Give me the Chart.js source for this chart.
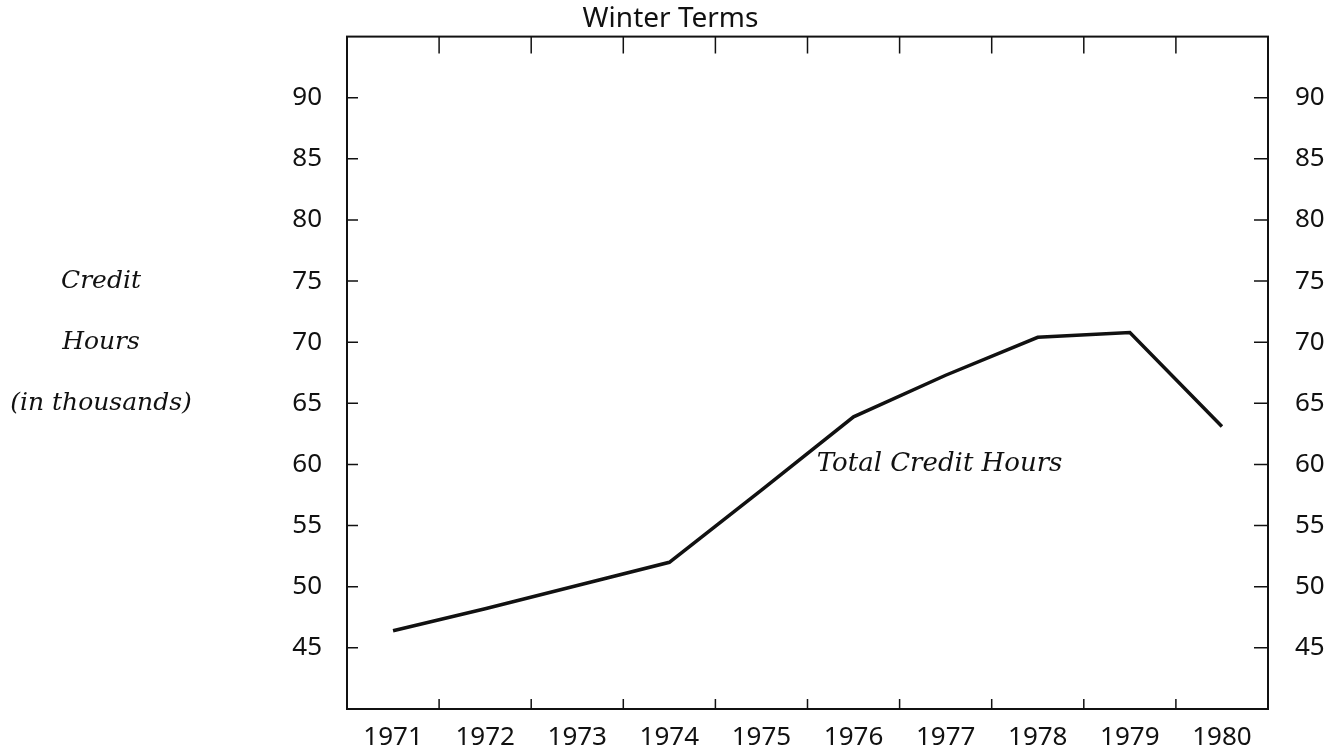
<!DOCTYPE html>
<html>
<head>
<meta charset="utf-8">
<title>Winter Terms</title>
<script src="https://cdn.jsdelivr.net/npm/chart.js@4.4.1/dist/chart.umd.min.js"></script>
<style>
  html, body { margin: 0; padding: 0; background: #fff; }
  #wrap { width: 1341px; height: 753px; }
</style>
</head>
<body>
<div id="wrap"><canvas id="chart" width="1341" height="753"></canvas></div>
<script>
// Winter term credit hours, in thousands
const years = ['1971', '1972', '1973', '1974', '1975', '1976', '1977', '1978', '1979', '1980'];
const creditHours = [46.4, 48.2, 50.1, 52.0, 57.9, 63.9, 67.3, 70.4, 70.8, 63.1];
const yTickValues = [45, 50, 55, 60, 65, 70, 75, 80, 85, 90];
const sideTitle = ['Credit', 'Hours', '(in thousands)'];
const sideTitleRows = [75, 70, 65];
const seriesLabel = 'Total Credit Hours';

const INK = '#111';
const numFont = { family: '"Noto Sans", sans-serif', size: 26 };
const italicFont = 'italic 25px "DejaVu Serif", serif';

// frame, inward tick marks and the loose text labels
const framePlugin = {
  id: 'frame',
  beforeDatasetsDraw(chart) {
    const { ctx, chartArea: a, scales } = chart;
    ctx.save();
    ctx.strokeStyle = INK;
    ctx.lineWidth = 2;
    ctx.strokeRect(a.left, a.top, a.right - a.left, a.bottom - a.top);

    ctx.lineWidth = 1.5;
    ctx.beginPath();
    scales.y.ticks.forEach(t => {
      const py = scales.y.getPixelForValue(t.value);
      ctx.moveTo(a.left, py); ctx.lineTo(a.left + 11, py);
      ctx.moveTo(a.right, py); ctx.lineTo(a.right - 14, py);
    });
    // x ticks sit on the boundaries between years
    for (let i = 0; i < years.length - 1; i++) {
      const px = (scales.x.getPixelForValue(i) + scales.x.getPixelForValue(i + 1)) / 2;
      ctx.moveTo(px, a.top); ctx.lineTo(px, a.top + 17);
      ctx.moveTo(px, a.bottom); ctx.lineTo(px, a.bottom - 10);
    }
    ctx.stroke();

    ctx.fillStyle = INK;
    ctx.font = italicFont;
    ctx.textBaseline = 'middle';
    ctx.textAlign = 'center';
    sideTitle.forEach((txt, i) => {
      ctx.fillText(txt, 101, scales.y.getPixelForValue(sideTitleRows[i]));
    });

    ctx.textAlign = 'left';
    ctx.font = 'italic 26px "DejaVu Serif", serif';
    ctx.fillText(seriesLabel, scales.x.getPixelForValue(4.6), scales.y.getPixelForValue(60));
    ctx.restore();
  }
};

new Chart(document.getElementById('chart'), {
  type: 'line',
  data: {
    labels: years,
    datasets: [{
      label: seriesLabel,
      data: creditHours,
      borderColor: INK,
      borderWidth: 3.5,
      pointRadius: 0,
      tension: 0,
      fill: false
    }]
  },
  options: {
    responsive: false,
    animation: false,
    layout: { padding: 0 },
    plugins: {
      legend: { display: false },
      tooltip: { enabled: false },
      title: {
        display: true,
        text: 'Winter Terms',
        color: INK,
        font: { family: '"Noto Sans", sans-serif', size: 28, weight: 'normal' },
        padding: { top: 2, bottom: 1 }
      }
    },
    scales: {
      x: {
        type: 'category',
        offset: true,
        grid: { display: false },
        border: { display: false },
        ticks: { color: INK, font: numFont, padding: 5, maxRotation: 0, autoSkip: false },
        afterFit(s) { s.height = 44; s.paddingLeft = 0; s.paddingRight = 0; }
      },
      y: {
        position: 'left',
        min: 40, max: 95,
        grid: { display: false, drawTicks: false },
        border: { display: false },
        ticks: { color: INK, font: numFont, padding: 25 },
        afterBuildTicks(s) { s.ticks = yTickValues.map(v => ({ value: v })); },
        afterFit(s) { s.width = 347; s.paddingTop = 0; s.paddingBottom = 0; }
      },
      y2: {
        position: 'right',
        min: 40, max: 95,
        grid: { display: false, drawTicks: false },
        border: { display: false },
        ticks: { color: INK, font: numFont, padding: 27 },
        afterBuildTicks(s) { s.ticks = yTickValues.map(v => ({ value: v })); },
        afterFit(s) { s.width = 73; s.paddingTop = 0; s.paddingBottom = 0; }
      }
    }
  },
  plugins: [framePlugin]
});
</script>
</body>
</html>
